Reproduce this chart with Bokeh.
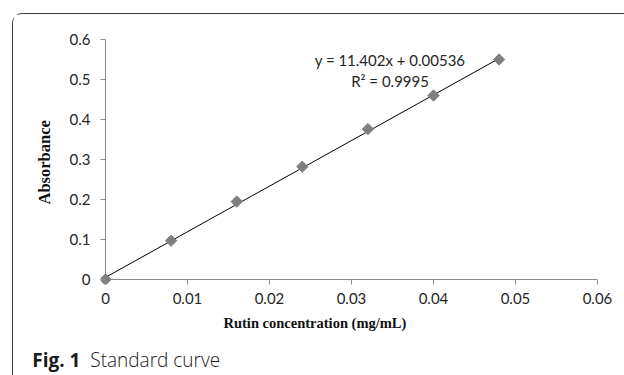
import math
from bokeh.plotting import figure
from bokeh.models import Range1d, FixedTicker, Label, Title, Div
from bokeh.layouts import column
from bokeh.embed import file_html
from bokeh.resources import INLINE

# ---- data ----
concentration = [0.0, 0.008, 0.016, 0.024, 0.032, 0.040, 0.048]
absorbance = [0.0, 0.097, 0.195, 0.282, 0.376, 0.460, 0.550]
slope = 11.402
intercept = 0.00536
r_squared = 0.9995

x_ticks = [0.0, 0.01, 0.02, 0.03, 0.04, 0.05, 0.06]
x_tick_labels = ["0", "0.01", "0.02", "0.03", "0.04", "0.05", "0.06"]
y_ticks = [0.0, 0.1, 0.2, 0.3, 0.4, 0.5, 0.6]
y_tick_labels = ["0", "0.1", "0.2", "0.3", "0.4", "0.5", "0.6"]

x_title = "Rutin concentration (mg/mL)"
y_title = "Absorbance"
caption_bold = "Fig. 1"
caption_text = "Standard curve"

TICK_FONT = "Lato"
AXIS_COLOR = "#8c8c8c"

# small margin below/left of the origin so the origin marker is not cut;
# the axis lines themselves are drawn at 0 from the tick lists
p = figure(width=611, height=336, output_backend="svg", toolbar_location=None,
           x_range=Range1d(-0.00061, x_ticks[-1]), y_range=Range1d(-0.0125, y_ticks[-1]),
           min_border_left=87, min_border_right=27, min_border_top=25, min_border_bottom=66)
p.outline_line_color = None
p.xgrid.visible = False
p.ygrid.visible = False
p.background_fill_color = "white"
p.border_fill_color = "white"

for ax, ticks, labels in ((p.xaxis[0], x_ticks, x_tick_labels), (p.yaxis[0], y_ticks, y_tick_labels)):
    ax.ticker = FixedTicker(ticks=ticks)
    ax.major_label_overrides = {t: l for t, l in zip(ticks, labels)}
    ax.axis_line_color = None
    ax.major_tick_line_color = AXIS_COLOR
    ax.major_tick_out = 0
    ax.major_tick_in = 5
    ax.minor_tick_line_color = None
    ax.major_label_text_font = TICK_FONT
    ax.major_label_text_font_size = "15px"
    ax.major_label_text_color = "#262626"
p.xaxis.major_label_standoff = 8
p.yaxis.major_label_standoff = 10

# axis lines at zero
p.segment(x0=[x_ticks[0], x_ticks[0]], y0=[y_ticks[0], y_ticks[0]],
          x1=[x_ticks[0], x_ticks[-1]], y1=[y_ticks[-1], y_ticks[0]],
          line_color=AXIS_COLOR, line_width=1)

# axis titles
p.add_layout(Title(text=x_title, align="left", offset=123, standoff=16, vertical_align="top",
                   text_font="Liberation Serif", text_font_style="bold",
                   text_font_size="14.5px", text_color="#111111"), "below")
p.add_layout(Title(text=y_title, align="left", offset=80, standoff=25,
                   text_font="Liberation Serif", text_font_style="bold",
                   text_font_size="16.5px", text_color="#111111"), "left")

# trend line
fit_x = [min(concentration), max(concentration)]
fit_y = [slope * x + intercept for x in fit_x]
p.line(fit_x, fit_y, line_color="black", line_width=1)

# markers
p.scatter(concentration, absorbance, marker="square", size=8, angle=math.pi / 4,
          fill_color="#7f7f7f", line_color="#7f7f7f")

# equation text
p.add_layout(Label(x=0.0347, y=0.548, text=f"y = {slope}x + {intercept}",
                   text_font=TICK_FONT, text_font_size="15px", text_color="#262626",
                   text_align="center", text_baseline="middle"))
p.add_layout(Label(x=0.0347, y=0.496, text=f"R² = {r_squared}",
                   text_font=TICK_FONT, text_font_size="15px", text_color="#262626",
                   text_align="center", text_baseline="middle"))

caption = Div(width=611, height=24,
              text=(f'<div style="padding-left:15px; margin-top:-6px; line-height:20px; '
                    f'font-family:\'Open Sans\'; font-size:20px; color:#1a1a1a; white-space:nowrap; '
                    f'transform:scaleX(0.95); transform-origin:left center;">'
                    f'<b>{caption_bold}</b>&nbsp;&nbsp;<span style="font-weight:300">{caption_text}</span></div>'))

layout = column(p, caption, spacing=0)
layout.styles = {"margin-left": "12px", "margin-top": "13px",
                 "border-left": "1.3px solid #3a3a3a", "border-top": "1.3px solid #3a3a3a",
                 "border-top-left-radius": "10px", "background-color": "white"}

open("out.html", "w").write(file_html(layout, INLINE))
